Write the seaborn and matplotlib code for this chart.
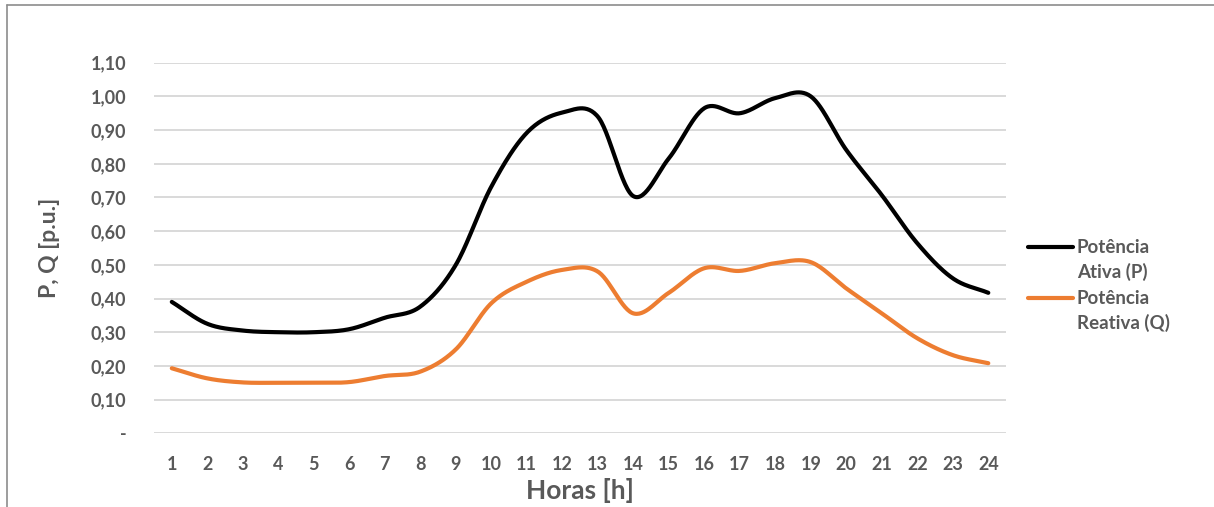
import numpy as np
import pandas as pd
import matplotlib
matplotlib.use("Agg")
import matplotlib.pyplot as plt
from matplotlib.legend_handler import HandlerLine2D
import seaborn as sns

# Hourly load profile (per-unit)
horas = list(range(1, 25))
potencia_ativa = [0.39, 0.325, 0.305, 0.30, 0.30, 0.309, 0.343, 0.376, 0.50, 0.732,
                  0.892, 0.952, 0.94, 0.704, 0.816, 0.965, 0.95, 0.995, 1.0, 0.841,
                  0.707, 0.564, 0.46, 0.417]
potencia_reativa = [0.193, 0.163, 0.151, 0.15, 0.15, 0.152, 0.17, 0.183, 0.249, 0.386,
                    0.45, 0.485, 0.48, 0.356, 0.417, 0.49, 0.482, 0.505, 0.508, 0.43,
                    0.356, 0.282, 0.232, 0.208]
serie_nomes = ["Potência\nAtiva (P)", "Potência\nReativa (Q)"]
serie_cores = ["#000000", "#ED7D31"]
y_ticks = [0.0, 0.1, 0.2, 0.3, 0.4, 0.5, 0.6, 0.7, 0.8, 0.9, 1.0, 1.1]


def smooth(x, y, n=30):
    """Catmull-Rom curve through the points (spreadsheet-style smoothed line)."""
    x = np.asarray(x, float)
    y = np.asarray(y, float)
    px = np.concatenate([[2 * x[0] - x[1]], x, [2 * x[-1] - x[-2]]])
    py = np.concatenate([[2 * y[0] - y[1]], y, [2 * y[-1] - y[-2]]])
    xs, ys = [], []
    t = np.linspace(0, 1, n, endpoint=False)
    for i in range(1, len(px) - 2):
        for arr, out in ((px, xs), (py, ys)):
            p0, p1, p2, p3 = arr[i - 1], arr[i], arr[i + 1], arr[i + 2]
            out.append(0.5 * (2 * p1 + (-p0 + p2) * t
                              + (2 * p0 - 5 * p1 + 4 * p2 - p3) * t ** 2
                              + (-p0 + 3 * p1 - 3 * p2 + p3) * t ** 3))
    xs.append([x[-1]])
    ys.append([y[-1]])
    return np.concatenate(xs), np.concatenate(ys)


class HandlerFirstLine(HandlerLine2D):
    """Legend line aligned with the first row of a two-line label."""

    def create_artists(self, legend, orig_handle, xdescent, ydescent,
                       width, height, fontsize, trans):
        artists = super().create_artists(legend, orig_handle, xdescent, ydescent,
                                         width, height, fontsize, trans)
        for a in artists:
            a.set_ydata(np.asarray(a.get_ydata(), float) + 0.72 * fontsize)
        return artists


frames = []
for nome, vals in zip(serie_nomes, [potencia_ativa, potencia_reativa]):
    sx, sy = smooth(horas, vals)
    frames.append(pd.DataFrame({"hora": sx, "valor": sy, "serie": nome}))
df = pd.concat(frames, ignore_index=True)

sns.set_theme(style="white")
plt.rcParams["font.family"] = ["Lato", "DejaVu Sans"]
txt = "#595959"

fig = plt.figure(figsize=(12.14, 5.07), dpi=100)
ax = fig.add_axes([0.1269, 0.1454, 0.7018, 0.7309])

sns.lineplot(data=df, x="hora", y="valor", hue="serie", hue_order=serie_nomes,
             palette=serie_cores, linewidth=3.0, sort=False, estimator=None,
             ax=ax, legend=True)

ax.set_xlim(0.5, 24.5)
ax.set_ylim(0, 1.10)
ax.set_yticks(y_ticks)
ax.set_yticklabels(["-" if v == 0 else f"{v:.2f}".replace(".", ",") for v in y_ticks])
ax.set_xticks(horas)
ax.set_xticklabels([str(h) for h in horas])
for spine in ax.spines.values():
    spine.set_visible(False)
ax.grid(axis="y", color="#d9d9d9", linewidth=1.4)
ax.grid(axis="x", visible=False)
ax.set_axisbelow(True)
ax.tick_params(axis="y", length=0, pad=20, labelsize=13, labelcolor=txt)
ax.tick_params(axis="x", length=0, pad=16, labelsize=13, labelcolor=txt)
for lab in ax.get_xticklabels() + ax.get_yticklabels():
    lab.set_fontweight("bold")

ax.set_xlabel("Horas [h]", fontsize=19, fontweight="bold", color=txt, labelpad=4)
ax.set_ylabel("P, Q [p.u.]", fontsize=16.5, fontweight="bold", color=txt, labelpad=22)

handles, labels = ax.get_legend_handles_labels()
leg = ax.legend(handles, labels, loc="upper left",
                bbox_to_anchor=(1028 / 1214, 1 - 239 / 507),
                bbox_transform=fig.transFigure, frameon=False, fontsize=13.5,
                handlelength=2.4, handletextpad=0.2, labelspacing=0.45,
                borderaxespad=0, borderpad=0,
                handler_map={h: HandlerFirstLine() for h in handles})
for t in leg.get_texts():
    t.set_color(txt)
    t.set_fontweight("bold")
    t.set_linespacing(1.47)
for h in leg.legend_handles:
    h.set_linewidth(3.0)

# Chart-area border (top and left edges)
fig.add_artist(plt.Line2D([7 / 1214, 7 / 1214], [0, 1 - 5 / 507],
                          transform=fig.transFigure, color="#8c8c8c", linewidth=1.2))
fig.add_artist(plt.Line2D([7 / 1214, 1], [1 - 5 / 507, 1 - 5 / 507],
                          transform=fig.transFigure, color="#8c8c8c", linewidth=1.2))

fig.savefig("out.png", dpi=100, facecolor="white")
